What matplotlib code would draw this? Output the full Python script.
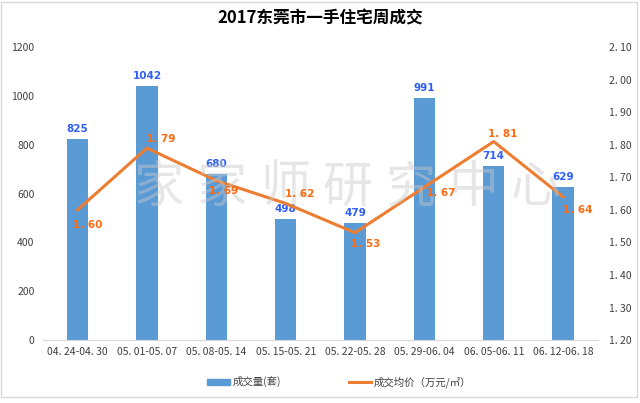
import matplotlib.pyplot as plt
import numpy as np
from matplotlib.patches import Rectangle

plt.rcParams['font.family'] = ['Noto Sans CJK SC', 'DejaVu Sans']

weeks = ['04.24-04.30', '05.01-05.07', '05.08-05.14', '05.15-05.21',
         '05.22-05.28', '05.29-06.04', '06.05-06.11', '06.12-06.18']
volume = [825, 1042, 680, 498, 479, 991, 714, 629]
price = [1.60, 1.79, 1.69, 1.62, 1.53, 1.67, 1.81, 1.64]
watermark = '家家师研究中心'

# label offsets (pixels) for the price labels
price_offsets = [(10, -15), (14, 9), (7, -10), (14, 9), (11, -11), (16, -6), (9, 8), (15, -13)]

bar_color = '#5B9BD5'
line_color = '#ED7D31'

fig = plt.figure(figsize=(6.4, 4.03), dpi=100)
ax = fig.add_axes([0.067, 0.156, 0.867, 0.727])
ax2 = ax.twinx()

x = np.arange(len(weeks))
ax.bar(x, volume, width=0.31, color=bar_color, zorder=2)
for xi, v in zip(x, volume):
    ax.annotate(str(v), (xi, v), xytext=(0, 5), textcoords='offset pixels',
                ha='center', va='bottom', color='#2F5FF5', fontsize=7.5,
                fontweight='bold', family='DejaVu Sans')

ax2.plot(x, price, color=line_color, lw=2.2, zorder=3)
for xi, p, (dx, dy) in zip(x, price, price_offsets):
    ax2.annotate(f'{p:.2f}'.replace('.', '. '), (xi, p), xytext=(dx, dy),
                 textcoords='offset pixels', ha='center', va='center',
                 color='#FF6A10', fontsize=7.5, fontweight='bold',
                 family='DejaVu Sans', zorder=6)

ax.set_xlim(-0.5, len(weeks) - 0.5)
ax.set_ylim(0, 1200)
ax.set_yticks(range(0, 1201, 200))
ax2.set_ylim(1.2, 2.1)
ax2.set_yticks(np.arange(1.2, 2.101, 0.1))
ax2.set_yticklabels([f'{t:.2f}'.replace('.', '. ') for t in np.arange(1.2, 2.101, 0.1)])
ax.set_xticks(x)
ax.set_xticklabels([w.replace('.', '. ') for w in weeks])

for a in (ax, ax2):
    for s in ('top', 'left', 'right', 'bottom'):
        a.spines[s].set_visible(False)
    a.tick_params(length=0, labelsize=7.5, colors='#404040')
ax.spines['bottom'].set_visible(True)
ax.spines['bottom'].set_color('#D9D9D9')
ax.tick_params(axis='y', pad=6)
ax2.tick_params(axis='y', pad=8)
ax.tick_params(axis='x', pad=5)

# faint watermark, one character at a time for the wide spacing
for i, ch in enumerate(watermark):
    ax2.text(0.21 + i * 0.113, 0.52, ch, transform=ax.transAxes, ha='center',
             va='center', fontsize=36, color='#C8C8C8', alpha=0.45, zorder=5)

fig.text(0.5, 0.955, '2017东莞市一手住宅周成交', ha='center', va='center',
         fontsize=12, fontweight='bold', color='#000000')

h1 = plt.Rectangle((0, 0), 1, 1, color=bar_color)
h2 = plt.Line2D([], [], color=line_color, lw=2.2)
fig.legend([h1, h2], ['成交量(套)', '成交均价（万元/㎡）'], loc='center',
           bbox_to_anchor=(0.53, 0.052), ncol=2, frameon=False, fontsize=7.5,
           handlelength=2.2, handleheight=0.5, handletextpad=0.2,
           columnspacing=6.5, labelcolor='#404040')

fig.patches.append(Rectangle((0.002, 0.015), 0.993, 0.98, transform=fig.transFigure,
                             fill=False, edgecolor='#D9D9D9', lw=1))

fig.savefig('out.png', dpi=100)
